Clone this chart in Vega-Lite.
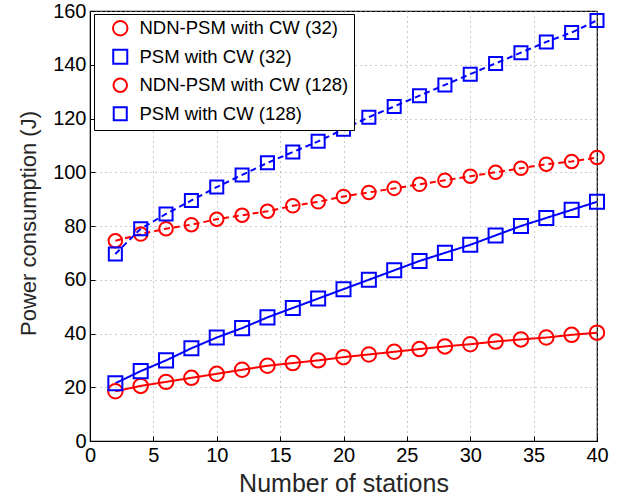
{
  "$schema": "https://vega.github.io/schema/vega-lite/v6.json",
  "width": 507,
  "height": 430,
  "autosize": {"type": "none"},
  "padding": {"left": 90, "top": 11, "right": 25, "bottom": 62},
  "background": "white",
  "config": {
    "font": "Liberation Sans",
    "view": {"stroke": "black", "strokeWidth": 1.2},
    "axis": {
      "labelFont": "Liberation Sans",
      "titleFont": "Liberation Sans",
      "labelColor": "black",
      "titleColor": "#262626",
      "titleFontWeight": "normal",
      "labelFontSize": 20,
      "domainColor": "black",
      "tickColor": "black",
      "tickSize": -5,
      "gridColor": "#999999",
      "gridDash": [1, 4],
      "gridWidth": 1,
      "gridOpacity": 1
    },
    "legend": {
      "orient": "none",
      "legendX": 4,
      "legendY": 3,
      "padding": 5,
      "strokeColor": "black",
      "fillColor": "white",
      "labelFont": "Liberation Sans",
      "labelFontSize": 18.5,
      "labelLimit": 400,
      "labelColor": "black",
      "labelOffset": 10,
      "rowPadding": 5.5,
      "symbolSize": 240,
      "symbolStrokeWidth": 2,
      "symbolFillColor": "transparent",
      "symbolOffset": 12
    }
  },
  "data": {
    "values": [
      {"s": "NDN-PSM with CW (32)", "cw": "32", "x": 2, "y": 18.5}, {"s": "NDN-PSM with CW (32)", "cw": "32", "x": 4, "y": 20.5}, {"s": "NDN-PSM with CW (32)", "cw": "32", "x": 6, "y": 22}, {"s": "NDN-PSM with CW (32)", "cw": "32", "x": 8, "y": 23.5}, {"s": "NDN-PSM with CW (32)", "cw": "32", "x": 10, "y": 25}, {"s": "NDN-PSM with CW (32)", "cw": "32", "x": 12, "y": 26.5}, {"s": "NDN-PSM with CW (32)", "cw": "32", "x": 14, "y": 28}, {"s": "NDN-PSM with CW (32)", "cw": "32", "x": 16, "y": 29}, {"s": "NDN-PSM with CW (32)", "cw": "32", "x": 18, "y": 30}, {"s": "NDN-PSM with CW (32)", "cw": "32", "x": 20, "y": 31.2}, {"s": "NDN-PSM with CW (32)", "cw": "32", "x": 22, "y": 32.2}, {"s": "NDN-PSM with CW (32)", "cw": "32", "x": 24, "y": 33.2}, {"s": "NDN-PSM with CW (32)", "cw": "32", "x": 26, "y": 34.2}, {"s": "NDN-PSM with CW (32)", "cw": "32", "x": 28, "y": 35.2}, {"s": "NDN-PSM with CW (32)", "cw": "32", "x": 30, "y": 36}, {"s": "NDN-PSM with CW (32)", "cw": "32", "x": 32, "y": 37}, {"s": "NDN-PSM with CW (32)", "cw": "32", "x": 34, "y": 37.8}, {"s": "NDN-PSM with CW (32)", "cw": "32", "x": 36, "y": 38.5}, {"s": "NDN-PSM with CW (32)", "cw": "32", "x": 38, "y": 39.5}, {"s": "NDN-PSM with CW (32)", "cw": "32", "x": 40, "y": 40.3},
      {"s": "PSM with CW (32)", "cw": "32", "x": 2, "y": 21.5}, {"s": "PSM with CW (32)", "cw": "32", "x": 4, "y": 26}, {"s": "PSM with CW (32)", "cw": "32", "x": 6, "y": 30}, {"s": "PSM with CW (32)", "cw": "32", "x": 8, "y": 34.5}, {"s": "PSM with CW (32)", "cw": "32", "x": 10, "y": 38.5}, {"s": "PSM with CW (32)", "cw": "32", "x": 12, "y": 42}, {"s": "PSM with CW (32)", "cw": "32", "x": 14, "y": 46}, {"s": "PSM with CW (32)", "cw": "32", "x": 16, "y": 49.5}, {"s": "PSM with CW (32)", "cw": "32", "x": 18, "y": 53}, {"s": "PSM with CW (32)", "cw": "32", "x": 20, "y": 56.5}, {"s": "PSM with CW (32)", "cw": "32", "x": 22, "y": 60}, {"s": "PSM with CW (32)", "cw": "32", "x": 24, "y": 63.5}, {"s": "PSM with CW (32)", "cw": "32", "x": 26, "y": 67}, {"s": "PSM with CW (32)", "cw": "32", "x": 28, "y": 70}, {"s": "PSM with CW (32)", "cw": "32", "x": 30, "y": 73}, {"s": "PSM with CW (32)", "cw": "32", "x": 32, "y": 76.5}, {"s": "PSM with CW (32)", "cw": "32", "x": 34, "y": 80}, {"s": "PSM with CW (32)", "cw": "32", "x": 36, "y": 83}, {"s": "PSM with CW (32)", "cw": "32", "x": 38, "y": 86}, {"s": "PSM with CW (32)", "cw": "32", "x": 40, "y": 89},
      {"s": "NDN-PSM with CW (128)", "cw": "128", "x": 2, "y": 74.5}, {"s": "NDN-PSM with CW (128)", "cw": "128", "x": 4, "y": 77}, {"s": "NDN-PSM with CW (128)", "cw": "128", "x": 6, "y": 79}, {"s": "NDN-PSM with CW (128)", "cw": "128", "x": 8, "y": 80.5}, {"s": "NDN-PSM with CW (128)", "cw": "128", "x": 10, "y": 82.5}, {"s": "NDN-PSM with CW (128)", "cw": "128", "x": 12, "y": 84}, {"s": "NDN-PSM with CW (128)", "cw": "128", "x": 14, "y": 85.5}, {"s": "NDN-PSM with CW (128)", "cw": "128", "x": 16, "y": 87.5}, {"s": "NDN-PSM with CW (128)", "cw": "128", "x": 18, "y": 89}, {"s": "NDN-PSM with CW (128)", "cw": "128", "x": 20, "y": 91}, {"s": "NDN-PSM with CW (128)", "cw": "128", "x": 22, "y": 92.5}, {"s": "NDN-PSM with CW (128)", "cw": "128", "x": 24, "y": 94}, {"s": "NDN-PSM with CW (128)", "cw": "128", "x": 26, "y": 95.5}, {"s": "NDN-PSM with CW (128)", "cw": "128", "x": 28, "y": 97}, {"s": "NDN-PSM with CW (128)", "cw": "128", "x": 30, "y": 98.5}, {"s": "NDN-PSM with CW (128)", "cw": "128", "x": 32, "y": 100}, {"s": "NDN-PSM with CW (128)", "cw": "128", "x": 34, "y": 101.5}, {"s": "NDN-PSM with CW (128)", "cw": "128", "x": 36, "y": 103}, {"s": "NDN-PSM with CW (128)", "cw": "128", "x": 38, "y": 104}, {"s": "NDN-PSM with CW (128)", "cw": "128", "x": 40, "y": 105.5},
      {"s": "PSM with CW (128)", "cw": "128", "x": 2, "y": 69.6}, {"s": "PSM with CW (128)", "cw": "128", "x": 4, "y": 79}, {"s": "PSM with CW (128)", "cw": "128", "x": 6, "y": 84.5}, {"s": "PSM with CW (128)", "cw": "128", "x": 8, "y": 89.5}, {"s": "PSM with CW (128)", "cw": "128", "x": 10, "y": 94.5}, {"s": "PSM with CW (128)", "cw": "128", "x": 12, "y": 99}, {"s": "PSM with CW (128)", "cw": "128", "x": 14, "y": 103.5}, {"s": "PSM with CW (128)", "cw": "128", "x": 16, "y": 107.5}, {"s": "PSM with CW (128)", "cw": "128", "x": 18, "y": 111.5}, {"s": "PSM with CW (128)", "cw": "128", "x": 20, "y": 116}, {"s": "PSM with CW (128)", "cw": "128", "x": 22, "y": 120.5}, {"s": "PSM with CW (128)", "cw": "128", "x": 24, "y": 124.5}, {"s": "PSM with CW (128)", "cw": "128", "x": 26, "y": 128.5}, {"s": "PSM with CW (128)", "cw": "128", "x": 28, "y": 132.5}, {"s": "PSM with CW (128)", "cw": "128", "x": 30, "y": 136.5}, {"s": "PSM with CW (128)", "cw": "128", "x": 32, "y": 140.5}, {"s": "PSM with CW (128)", "cw": "128", "x": 34, "y": 144.5}, {"s": "PSM with CW (128)", "cw": "128", "x": 36, "y": 148.5}, {"s": "PSM with CW (128)", "cw": "128", "x": 38, "y": 152}, {"s": "PSM with CW (128)", "cw": "128", "x": 40, "y": 156.5}
    ]
  },
  "encoding": {
    "x": {
      "field": "x", "type": "quantitative",
      "scale": {"domain": [0, 40], "nice": false},
      "axis": {"values": [0, 5, 10, 15, 20, 25, 30, 35, 40], "title": "Number of stations", "titleFontSize": 25, "titlePadding": 6, "labelPadding": 9, "labelFlush": false}
    },
    "y": {
      "field": "y", "type": "quantitative",
      "scale": {"domain": [0, 160], "nice": false},
      "axis": {"values": [0, 20, 40, 60, 80, 100, 120, 140, 160], "title": "Power consumption (J)", "titleFontSize": 22, "titlePadding": 12, "labelPadding": 9, "titleY": 212}
    },
    "color": {
      "field": "s", "type": "nominal",
      "scale": {"domain": ["NDN-PSM with CW (32)", "PSM with CW (32)", "NDN-PSM with CW (128)", "PSM with CW (128)"], "range": ["#ff0000", "#0000ff", "#ff0000", "#0000ff"]},
      "legend": {"title": null}
    }
  },
  "layer": [
    {
      "mark": {"type": "line", "strokeWidth": 2},
      "encoding": {
        "strokeDash": {"field": "cw", "type": "nominal", "scale": {"domain": ["32", "128"], "range": [[1, 0], [6, 4]]}, "legend": null}
      }
    },
    {
      "mark": {"type": "point", "filled": false, "strokeWidth": 2, "opacity": 1},
      "encoding": {
        "shape": {"field": "s", "type": "nominal", "scale": {"domain": ["NDN-PSM with CW (32)", "PSM with CW (32)", "NDN-PSM with CW (128)", "PSM with CW (128)"], "range": ["circle", "square", "circle", "square"]}, "legend": {"title": null}},
        "size": {"field": "s", "type": "nominal", "scale": {"domain": ["NDN-PSM with CW (32)", "PSM with CW (32)", "NDN-PSM with CW (128)", "PSM with CW (128)"], "range": [210, 170, 210, 170]}, "legend": null}
      }
    }
  ]
}
